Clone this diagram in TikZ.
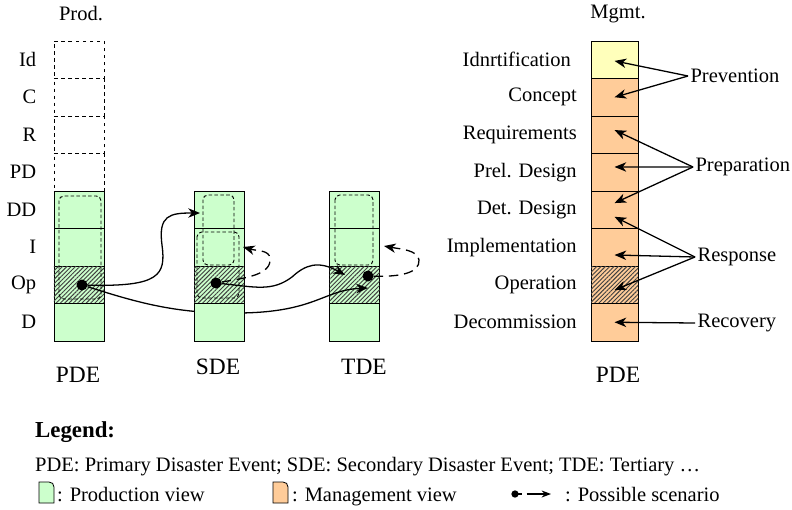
\documentclass[tikz,border=0pt]{standalone}
\usepackage{fontspec}
\setmainfont{Liberation Serif}
\usetikzlibrary{positioning,arrows.meta,patterns.meta}
\definecolor{prodgreen}{RGB}{204,255,204}
\definecolor{mgmtorange}{RGB}{255,204,153}
\definecolor{mgmtyellow}{RGB}{255,255,187}
\tikzset{
  cell/.style={draw,line width=0.7pt,minimum width=1.5cm,minimum height=1.125cm,inner sep=0pt,outer sep=0pt},
  prod/.style={cell,fill=prodgreen},
  plan/.style={cell,dashed,line width=0.8pt},
  mgmt/.style={cell,minimum width=1.41cm,fill=mgmtorange},
  hatched/.style={postaction={pattern={Lines[angle=45,distance=2.6pt,line width=0.8pt]},pattern color=black!75}},
  hprod/.style={prod,hatched},
  hmgmt/.style={mgmt,hatched},
  frame/.style={draw=black,line width=0.8pt,dash pattern=on 3pt off 2pt,rounded corners=4pt},
  lbl/.style={inner sep=2pt},
  ttl/.style={font=\fontsize{20}{24}\selectfont},
  dot/.style={circle,fill,inner sep=0pt,minimum size=0.33cm},
  conn/.style={line width=1.1pt,-{Stealth[length=10pt,width=8pt,inset=3pt]}},
  scen/.style={conn,dash pattern=on 8pt off 5pt}
}
\begin{document}
\begin{tikzpicture}[x=0.03cm,y=-0.03cm,every node/.style={font=\fontsize{17.5}{20}\selectfont}]
\useasboundingbox (0,0) rectangle (792,510);
% Production view of the PDE
\node[lbl] (prodttl) at (81,14) {Prod.};
\foreach \i in {1,...,4} \node[plan] (pde\i) at (79,{22.25+37.5*\i}) {};
\foreach \i/\s in {5/prod,6/prod,7/hprod,8/prod} \node[\s] (pde\i) at (79,{22.25+37.5*\i}) {};
\foreach \i/\l in {1/Id,2/C,3/R,4/PD,5/DD,6/I,7/Op,8/D} \node[lbl,left=13pt of pde\i] (pl\i) {\l};
\draw[frame] (59,196) rectangle (101,299);
\node[dot] (d1) at (82,285) {};
\node[ttl] (pdename) at (78,375) {PDE};
% TDE
\foreach \i/\s in {5/prod,6/prod,7/hprod,8/prod} \node[\s] (tde\i) at (354.5,{22.25+37.5*\i}) {};
\draw[frame] (335,195) rectangle (373,265);
\node[ttl] (tdename) at (364,367) {TDE};
\coordinate (t2) at (368,288);
% PDE -> TDE (runs behind the SDE)
\draw[conn] (d1) .. controls (130,300) and (170,313) .. (230,313) .. controls (315,314) and (322,290) .. (t2);
% SDE
\foreach \i/\s in {5/prod,6/prod,7/hprod,8/prod} \node[\s] (sde\i) at (219,{22.25+37.5*\i}) {};
\draw[frame] (203,195) rectangle (234,265);
\draw[frame] (197,232) rectangle (239,298);
\node[dot] (d2) at (216,283) {};
\node[ttl] (sdename) at (218,367) {SDE};
\coordinate (t1) at (200,213);
\coordinate (t3) at (345,275);
\coordinate (t4) at (243,247);
\draw[conn] (d1) .. controls (160,287) and (166,275) .. (162,245) .. controls (158,215) and (170,213) .. (t1);
\draw[conn] (d2) .. controls (255,287) and (272,292) .. (292,277) .. controls (305,265) and (318,260) .. (t3);
\draw[scen] (d2) .. controls (245,278) and (272,275) .. (270,258) .. controls (269,250) and (257,251) .. (t4);
% TDE loop
\node[dot] (d3) at (368,276) {};
\coordinate (t5) at (384,246);
\draw[scen] (d3) .. controls (400,277) and (420,273) .. (419,260) .. controls (418,250) and (400,249) .. (t5);
% Management view of the PDE
\node[lbl] (mgmtttl) at (618,14) {Mgmt.};
\node[mgmt,fill=mgmtyellow] (mg1) at (614.5,59.75) {};
\foreach \i/\s in {2/mgmt,3/mgmt,4/mgmt,5/mgmt,6/mgmt,7/hmgmt,8/mgmt} \node[\s] (mg\i) at (614.5,{22.25+37.5*\i}) {};
\node[lbl,left=15pt of mg1] (ml1) {Idnrtification};
\foreach \i/\l in {2/Concept,3/Requirements,4/Prel. Design,5/Det. Design,6/Implementation,7/Operation,8/Decommission} \node[lbl,left=10pt of mg\i] (ml\i) {\l};
\node[ttl] (mgmtname) at (618,375) {PDE};
% phases
\node[lbl,anchor=west] (prev) at (688,76) {Prevention};
\node[lbl,anchor=west] (prep) at (693,167) {Preparation};
\node[lbl,anchor=west] (resp) at (695,257) {Response};
\node[lbl,anchor=west] (reco) at (695,323) {Recovery};
\draw[conn] (prev.west) -- ([yshift=-1pt]mg1.center);
\draw[conn] (prev.west) -- (mg2.center);
\draw[conn] (prep.west) -- ([yshift=4pt]mg3.center);
\draw[conn] (prep.west) -- ([yshift=4.5pt]mg4.center);
\draw[conn] (prep.west) -- ([yshift=5.7pt]mg5.center);
\draw[conn] (resp.west) -- ([yshift=-6pt]mg5.center);
\draw[conn] (resp.west) -- ([yshift=-6.6pt]mg6.center);
\draw[conn] (resp.west) -- ([yshift=-4.5pt]mg7.center);
\draw[conn] (reco.west) -- (mg8.center);
% Legend
\node[anchor=base west,font=\fontsize{19.5}{22}\selectfont\bfseries] (legend) at (31,437) {Legend:};
\node[anchor=base west,inner sep=0pt] (abbr) at (35,471) {PDE: Primary Disaster Event; SDE: Secondary Disaster Event; TDE: Tertiary …};
\draw[fill=prodgreen,line width=0.7pt] (39,503) -- (39,482) -- (49,482) .. controls (52,482) and (54,484) .. (54,487) -- (54,503) -- cycle;
\node[anchor=base west,inner sep=0pt] (prodkey) at (57,501) {: Production view};
\draw[fill=mgmtorange,line width=0.7pt] (273,503) -- (273,482) -- (283,482) .. controls (286,482) and (288,484) .. (288,487) -- (288,503) -- cycle;
\node[anchor=base west,inner sep=0pt] (mgmtkey) at (292,501) {: Management view};
\node[dot,minimum size=0.22cm] (ld) at (515,494) {};
\coordinate (le) at (551,494);
\draw[line width=1pt,dash pattern=on 6pt off 4pt on 30pt off 1pt,-{Stealth[length=8pt,width=6pt,inset=2.5pt]}] (ld.center) -- (le);
\node[anchor=base west,inner sep=0pt] (scenkey) at (565,501) {: Possible scenario};
\end{tikzpicture}
\end{document}
